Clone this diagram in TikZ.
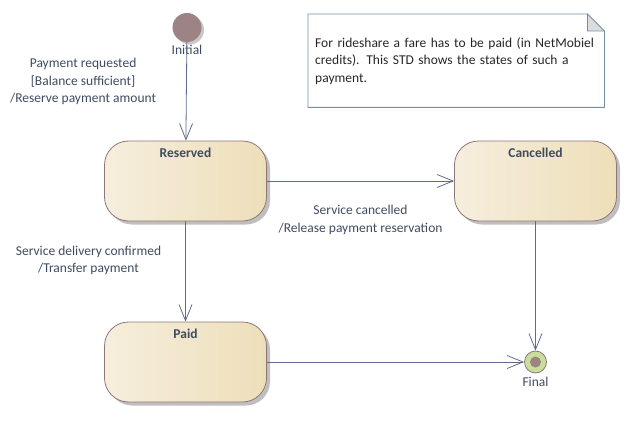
\documentclass[tikz,border=0pt]{standalone}
\usepackage{fontspec}
\setmainfont{Carlito}
\usepackage{xcolor}
\usetikzlibrary{arrows.meta, positioning, shadows}
\definecolor{txt}{HTML}{3E4B60}
\definecolor{wire}{HTML}{5D6C8C}
\definecolor{rim}{HTML}{8E7676}
\definecolor{sandl}{HTML}{F6EEDD}
\definecolor{sandr}{HTML}{EEDFBA}
\definecolor{dot}{HTML}{9C8484}
\definecolor{lime}{HTML}{C9DE9B}
\definecolor{noterim}{HTML}{7390A6}
\definecolor{fold}{HTML}{DCDCDC}
\tikzset{
  statebox/.style={rectangle, rounded corners=24pt, draw=rim, line width=0.8pt, left color=sandl, right color=sandr, minimum width=162pt, minimum height=80pt, drop shadow={shadow xshift=3.5pt, shadow yshift=-3.5pt, fill=black, opacity=0.25}},
  statename/.style={anchor=north, font=\bfseries, text=txt, inner sep=0pt, yshift=-7pt},
  startdot/.style={circle, fill=dot, minimum size=29pt, inner sep=0pt, drop shadow={shadow xshift=2.5pt, shadow yshift=-2.5pt, fill=black, opacity=0.22}},
  enddot/.style={circle, draw=rim, fill=lime, line width=0.8pt, minimum size=22pt, inner sep=0pt},
  nodetag/.style={text=txt, inner sep=1pt},
  trans/.style={draw=wire, line width=0.8pt, -{Straight Barb[length=16pt, width=13pt]}},
  trlabel/.style={text=txt, align=center, inner sep=0pt},
  notebox/.style={anchor=north west, minimum width=296pt, minimum height=93pt, text width=282pt, inner xsep=7pt, align=left, text=black!85}
}
\begin{document}
\fontsize{13.5}{17.5}\selectfont
\begin{tikzpicture}[x=1pt, y=-1pt]
\useasboundingbox (0,0) rectangle (634,425);
\node[startdot, label={[nodetag, label distance=1.5pt]below:Initial}] (init) at (187,27.5) {};
\node[statebox, label={[statename]north:Reserved}] (reserved) at (185.5,181) {};
\node[statebox, label={[statename]north:Cancelled}] (cancelled) at (535.5,181) {};
\node[statebox, label={[statename]north:Paid}] (paid) at (185.5,362) {};
\node[enddot, label={[nodetag, label distance=3pt]below:Final}] (final) at (535.5,362) {};
\node[circle, fill=dot, minimum size=11pt, inner sep=0pt] (finalcore) at (final) {};
\node[notebox] (note) at (308,14) {For rideshare a fare has to be paid (in NetMobiel\\credits). This STD shows the states of such a\\payment.};
\draw[noterim, line width=0.8pt] (note.north west) -- ([xshift=-17pt]note.north east) -- ([yshift=-17pt]note.north east) -- (note.south east) -- (note.south west) -- cycle;
\draw[noterim, line width=0.8pt, fill=fold] ([xshift=-17pt]note.north east) -- ([xshift=-17pt, yshift=-17pt]note.north east) -- ([yshift=-17pt]note.north east) -- cycle;
\draw[trans] (init) -- node[trlabel, pos=0.4, left=30pt] {Payment requested\\{[Balance sufficient]}\\/Reserve payment amount} (reserved);
\draw[trans] (reserved) -- node[trlabel, below=24pt] {Service cancelled\\/Release payment reservation} (cancelled);
\draw[trans] (reserved) -- node[trlabel, pos=0.39, left=24pt] {Service delivery confirmed\\/Transfer payment} (paid);
\draw[trans] (cancelled) -- (final);
\draw[trans] (paid) -- (final);
\end{tikzpicture}
\end{document}
